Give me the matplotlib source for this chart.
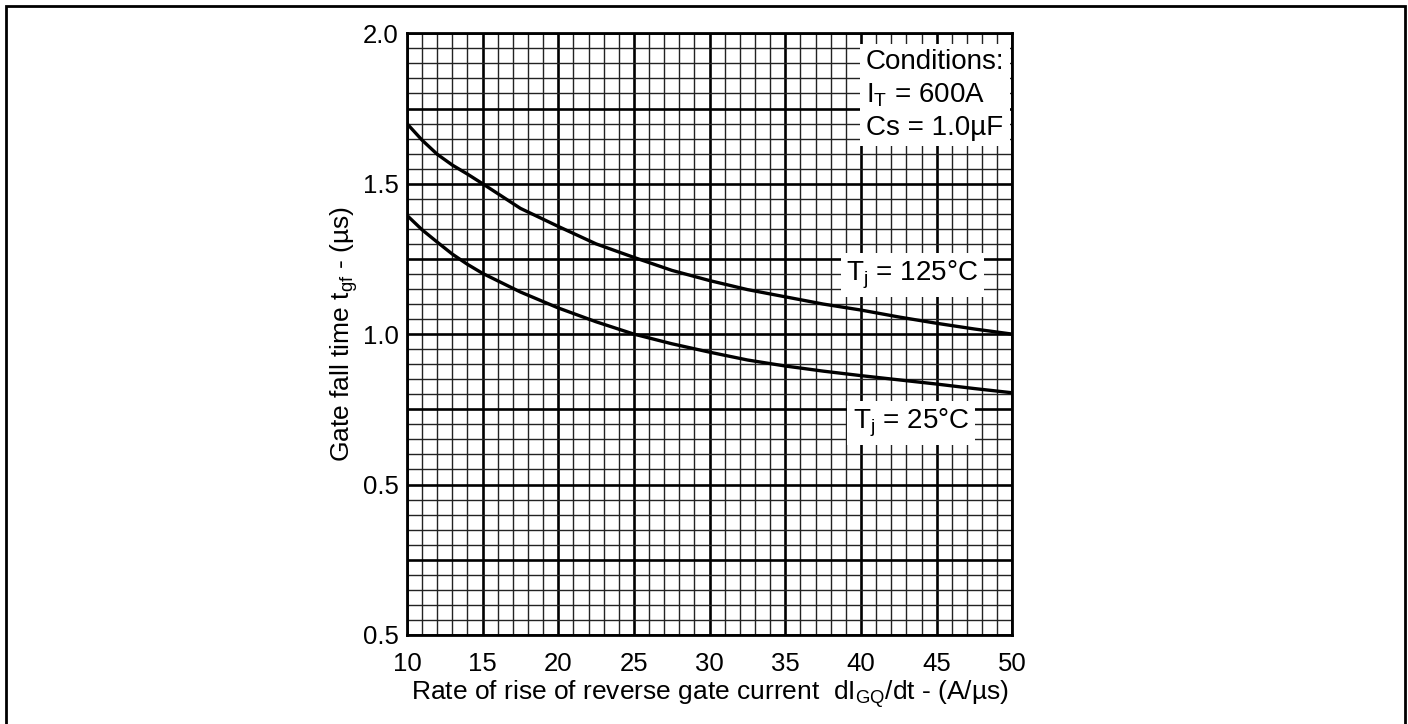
import matplotlib
matplotlib.use("Agg")
import matplotlib.pyplot as plt
from matplotlib.patches import Rectangle

plt.rcParams["font.family"] = ["Liberation Sans", "DejaVu Sans"]
plt.rcParams["mathtext.fontset"] = "custom"
plt.rcParams["mathtext.rm"] = "Liberation Sans"
plt.rcParams["mathtext.it"] = "Liberation Sans"

# values
rate = [10, 11, 12, 13, 14, 15, 17.5, 20, 22.5, 25, 27.5, 30, 32.5, 35, 37.5,
        40, 42.5, 45, 47.5, 50]
tgf_125 = [1.70, 1.645, 1.598, 1.562, 1.532, 1.50, 1.418, 1.358, 1.300, 1.255,
           1.212, 1.178, 1.148, 1.124, 1.100, 1.080, 1.057, 1.036, 1.017, 1.000]
tgf_25 = [1.395, 1.347, 1.306, 1.266, 1.232, 1.202, 1.140, 1.087, 1.041, 1.000,
          0.968, 0.940, 0.914, 0.894, 0.877, 0.862, 0.848, 0.834, 0.819, 0.805]

x_ticks = [10, 15, 20, 25, 30, 35, 40, 45, 50]
y_ticks = [0.0, 0.5, 1.0, 1.5, 2.0]
y_tick_labels = ["0.5", "0.5", "1.0", "1.5", "2.0"]

fig = plt.figure(figsize=(14.08, 7.24), dpi=100)
ax = fig.add_axes([0.289, 0.123, 0.430, 0.831])

ax.set_xlim(10, 50)
ax.set_ylim(0, 2.0)

# graph-paper grid
for v in range(10, 51):
    major = v % 5 == 0
    ax.axvline(v, color="black" if major else "#222222",
               lw=1.9 if major else 1.0, zorder=1)
for i in range(41):
    v = i * 0.05
    major = i % 5 == 0
    ax.axhline(v, color="black" if major else "#222222",
               lw=1.9 if major else 1.0, zorder=1)

ax.plot(rate, tgf_125, color="black", lw=2.4, zorder=3)
ax.plot(rate, tgf_25, color="black", lw=2.4, zorder=3)

ax.set_xticks(x_ticks)
ax.set_yticks(y_ticks)
ax.set_yticklabels(y_tick_labels)
ax.tick_params(axis="x", length=0, labelsize=18.5, pad=12)
ax.tick_params(axis="y", length=0, labelsize=18.5, pad=6)
for s in ax.spines.values():
    s.set_linewidth(2)

ax.set_xlabel(r"Rate of rise of reverse gate current  dI$_{\mathregular{GQ}}$/dt - (A/µs)",
              fontsize=19, labelpad=2)
ax.set_ylabel(r"Gate fall time t$_{\mathregular{gf}}$ - (µs)", fontsize=19, labelpad=2)

box = dict(facecolor="white", edgecolor="none", pad=4)
ax.text(40.3, 1.795, "Conditions:\nI$_{\\mathregular{T}}$ = 600A\nCs = 1.0µF",
        fontsize=20, ha="left", va="center", linespacing=1.3,
        bbox=box, zorder=4)
ax.text(43.4, 1.196, "T$_{\\mathregular{j}}$ = 125°C", fontsize=20, ha="center",
        va="center", bbox=box, zorder=4)
ax.text(43.3, 0.704, "T$_{\\mathregular{j}}$ = 25°C", fontsize=20, ha="center",
        va="center", bbox=box, zorder=4)

# outer frame
fig.patches.append(Rectangle((6 / 1408, -0.05), 1399 / 1408, 1.05 - 6 / 724,
                             transform=fig.transFigure, fill=False,
                             edgecolor="black", lw=2))

fig.savefig("out.png", dpi=100)
